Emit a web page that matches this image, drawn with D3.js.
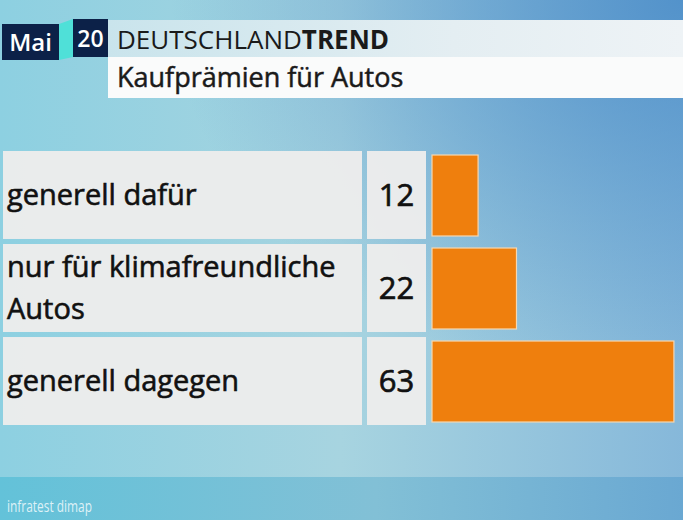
<!DOCTYPE html>
<html>
<head>
<meta charset="utf-8">
<script src="https://cdn.jsdelivr.net/npm/d3@7"></script>
<style>
  html, body { margin: 0; padding: 0; background: #8fcfe0; }
  svg { display: block; }
  text { font-family: "Open Sans", "Noto Sans", sans-serif; }
</style>
</head>
<body>
<div id="viz"></div>
<script>
// Deutschlandtrend Mai 2020: Kaufprämien für Autos
const categories = ["generell dafür", "nur für klimafreundliche Autos", "generell dagegen"];
const labelLines = [["generell dafür"], ["nur für klimafreundliche", "Autos"], ["generell dagegen"]];
const values = [12, 22, 63];

const month = "Mai";
const year = "20";
const titleRegular = "DEUTSCHLAND";
const titleBold = "TREND";
const subtitle = "Kaufprämien für Autos";
const source = "infratest dimap";

const width = 683;
const height = 520;

const svg = d3.select("#viz")
  .append("svg")
  .attr("width", width)
  .attr("height", height);

const defs = svg.append("defs");

// background gradient (light cyan on the left, bluer to the right)
const bg = defs.append("linearGradient").attr("id", "bg").attr("x1", 0).attr("x2", 1).attr("y1", 0).attr("y2", 0);
bg.append("stop").attr("offset", "0%").attr("stop-color", "#8dd0e1");
bg.append("stop").attr("offset", "50%").attr("stop-color", "#a7d4e0");
bg.append("stop").attr("offset", "100%").attr("stop-color", "#86b8da");

const glow = defs.append("radialGradient").attr("id", "glow")
  .attr("cx", 1).attr("cy", 0).attr("r", 0.75);
glow.append("stop").attr("offset", "0%").attr("stop-color", "#4a8cc8").attr("stop-opacity", 0.85);
glow.append("stop").attr("offset", "100%").attr("stop-color", "#4a8cc8").attr("stop-opacity", 0);

const foot = defs.append("linearGradient").attr("id", "foot").attr("x1", 0).attr("x2", 1);
foot.append("stop").attr("offset", "0%").attr("stop-color", "#63c2d9");
foot.append("stop").attr("offset", "55%").attr("stop-color", "#82c0d6");
foot.append("stop").attr("offset", "100%").attr("stop-color", "#6aa8d2");

const strip = defs.append("linearGradient").attr("id", "strip").attr("x1", 0).attr("x2", 1);
strip.append("stop").attr("offset", "0%").attr("stop-color", "#c9e4ec");
strip.append("stop").attr("offset", "60%").attr("stop-color", "#e4eef2");
strip.append("stop").attr("offset", "100%").attr("stop-color", "#eef3f6");

svg.append("rect").attr("width", width).attr("height", height).attr("fill", "url(#bg)");
svg.append("rect").attr("width", width).attr("height", height).attr("fill", "url(#glow)");
svg.append("rect").attr("y", 477).attr("width", width).attr("height", height - 477).attr("fill", "url(#foot)");

// header
const head = svg.append("g");
head.append("rect").attr("x", 108).attr("y", 20).attr("width", width - 108).attr("height", 37).attr("fill", "url(#strip)");
head.append("rect").attr("x", 108).attr("y", 57).attr("width", width - 108).attr("height", 41).attr("fill", "#fafbfb");
head.append("polygon").attr("points", "59,24 73,19 73,57 59,60").attr("fill", "#4fe0d8");
head.append("rect").attr("x", 2).attr("y", 24).attr("width", 57).attr("height", 36).attr("fill", "#0c2148");
head.append("rect").attr("x", 73).attr("y", 19).attr("width", 35).attr("height", 38).attr("fill", "#0c2148");
head.append("text").attr("x", 30.5).attr("y", 51).attr("text-anchor", "middle")
  .attr("fill", "#fff").attr("font-size", 24).attr("font-weight", 600).text(month);
head.append("text").attr("x", 90.5).attr("y", 47).attr("text-anchor", "middle")
  .attr("fill", "#fff").attr("font-size", 23).attr("font-weight", 600).text(year);

const title = head.append("text").attr("x", 117).attr("y", 49).attr("fill", "#1a1a1a").attr("font-size", 26);
title.append("tspan").text(titleRegular);
title.append("tspan").attr("font-weight", 700).text(titleBold);

head.append("text").attr("x", 117).attr("y", 87).attr("fill", "#1a1a1a").attr("font-size", 27)
  .attr("stroke", "#1a1a1a").attr("stroke-width", 0.5).text(subtitle);

// rows
const y = d3.scaleBand()
  .domain(categories)
  .range([151, 425])
  .paddingInner(0.054)
  .paddingOuter(0);

const x = d3.scaleLinear()
  .domain([0, 100])
  .range([432, 816]);

const rows = svg.append("g")
  .selectAll("g.row")
  .data(categories)
  .join("g")
  .attr("class", "row")
  .attr("transform", (d) => `translate(0, ${y(d)})`);

rows.append("rect")
  .attr("x", 3).attr("width", 359).attr("height", y.bandwidth())
  .attr("fill", "#ececec").attr("fill-opacity", 0.97);

rows.append("rect")
  .attr("x", 367).attr("width", 59).attr("height", y.bandwidth())
  .attr("fill", "#ececec").attr("fill-opacity", 0.97);

rows.append("rect")
  .attr("x", x(0)).attr("y", 4)
  .attr("width", (d, i) => x(values[i]) - x(0))
  .attr("height", y.bandwidth() - 7)
  .attr("fill", "#ef7f0d")
  .attr("stroke", "#f6d7b0").attr("stroke-width", 1.2);

rows.append("text")
  .attr("x", 396.5)
  .attr("y", y.bandwidth() / 2 + 11)
  .attr("text-anchor", "middle")
  .attr("fill", "#111")
  .attr("stroke", "#111").attr("stroke-width", 0.7)
  .attr("font-size", 31)
  .text((d, i) => values[i]);

rows.append("text")
  .attr("fill", "#111")
  .attr("stroke", "#111").attr("stroke-width", 0.6)
  .attr("font-size", 29)
  .each(function (d, i) {
    const lines = labelLines[i];
    const t = d3.select(this);
    const y0 = y.bandwidth() / 2 + 10 - (lines.length - 1) * 21;
    lines.forEach((line, k) => {
      t.append("tspan").attr("x", 7).attr("y", y0 + k * 42).text(line);
    });
  });

// source
svg.append("text").attr("x", 7).attr("y", 512)
  .attr("fill", "#f4fbfd").attr("fill-opacity", 0.85)
  .attr("font-size", 17)
  .attr("textLength", 85).attr("lengthAdjust", "spacingAndGlyphs")
  .text(source);
</script>
</body>
</html>
